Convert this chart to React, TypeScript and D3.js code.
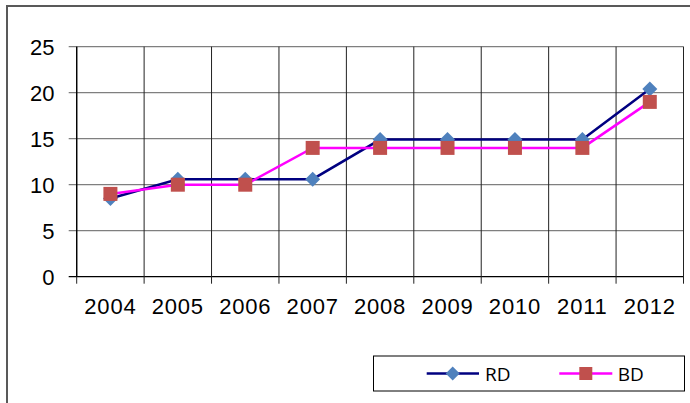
import * as d3 from "d3";
import { useEffect, useRef } from "react";

const years = ["2004", "2005", "2006", "2007", "2008", "2009", "2010", "2011", "2012"];
const rdValues = [8.5, 10.6, 10.6, 10.6, 14.9, 14.9, 14.9, 14.9, 20.4];
const bdValues = [9, 10, 10, 14, 14, 14, 14, 14, 19];
const yTicks = [0, 5, 10, 15, 20, 25];

const W = 690;
const H = 403;

// diamond marker, half size r
const diamond = (r: number) => {
    const p = d3.path();
    p.moveTo(0, -r);
    p.lineTo(r, 0);
    p.lineTo(0, r);
    p.lineTo(-r, 0);
    p.closePath();
    return p.toString();
};

const App = () => {
    const ref = useRef<SVGSVGElement>(null);

    useEffect(() => {
        const svg = d3.select(ref.current);
        svg.selectAll("*").remove();

        const plot = { left: 76.7, right: 683.5, top: 46.7, bottom: 276.7 };

        const x = d3.scaleBand().domain(years).range([plot.left, plot.right]).padding(0);
        const y = d3.scaleLinear().domain([0, 25]).range([plot.bottom, plot.top]);
        const cx = (d: string) => (x(d) as number) + x.bandwidth() / 2;

        // outer frame (runs past the window on right and bottom)
        svg.append("rect")
            .attr("x", 7).attr("y", 6)
            .attr("width", 700).attr("height", 420)
            .attr("fill", "white")
            .attr("stroke", "#595959")
            .attr("stroke-width", 2);

        // horizontal gridlines + y ticks
        svg.selectAll(".hgrid")
            .data(yTicks)
            .enter()
            .append("line")
            .attr("x1", plot.left - 8)
            .attr("x2", plot.right)
            .attr("y1", d => y(d))
            .attr("y2", d => y(d))
            .attr("stroke", d => d === 0 ? "#000" : "#7f7f7f")
            .attr("stroke-width", 1.3);

        // vertical category lines
        const bounds = years.map(d => x(d) as number).concat([plot.right]);
        svg.selectAll(".vgrid")
            .data(bounds)
            .enter()
            .append("line")
            .attr("x1", d => d)
            .attr("x2", d => d)
            .attr("y1", plot.top)
            .attr("y2", plot.bottom + 7)
            .attr("stroke", "#222")
            .attr("stroke-width", 1);

        svg.append("line")
            .attr("x1", plot.left).attr("x2", plot.left)
            .attr("y1", plot.top).attr("y2", plot.bottom)
            .attr("stroke", "#000").attr("stroke-width", 1.3);

        // y labels
        svg.selectAll(".ylab")
            .data(yTicks)
            .enter()
            .append("text")
            .attr("x", 54.5)
            .attr("y", d => y(d) + 8)
            .attr("text-anchor", "end")
            .attr("font-family", "'Liberation Sans', Arial, sans-serif")
            .attr("font-size", 22)
            .attr("fill", "#000")
            .text(d => d);

        // x labels
        svg.selectAll(".xlab")
            .data(years)
            .enter()
            .append("text")
            .attr("x", d => cx(d))
            .attr("y", 314)
            .attr("text-anchor", "middle")
            .attr("font-family", "'Liberation Sans', Arial, sans-serif")
            .attr("font-size", 22)
            .attr("letter-spacing", 0.8)
            .attr("fill", "#000")
            .text(d => d);

        const line = d3.line<number>()
            .x((_, i) => cx(years[i]))
            .y(d => y(d));

        // RD
        svg.append("path")
            .attr("d", line(rdValues))
            .attr("fill", "none")
            .attr("stroke", "#000080")
            .attr("stroke-width", 2.5);
        svg.selectAll(".rd")
            .data(rdValues)
            .enter()
            .append("path")
            .attr("d", diamond(7.5))
            .attr("transform", (d, i) => `translate(${cx(years[i])},${y(d)})`)
            .attr("fill", "#4F81BD");

        // BD
        svg.append("path")
            .attr("d", line(bdValues))
            .attr("fill", "none")
            .attr("stroke", "#FF00FF")
            .attr("stroke-width", 2.5);
        svg.selectAll(".bd")
            .data(bdValues)
            .enter()
            .append("rect")
            .attr("x", (d, i) => cx(years[i]) - 7)
            .attr("y", d => y(d) - 7)
            .attr("width", 14)
            .attr("height", 14)
            .attr("fill", "#C0504D");

        // legend
        const lg = svg.append("g");
        lg.append("rect")
            .attr("x", 373.5).attr("y", 356)
            .attr("width", 311).attr("height", 35)
            .attr("fill", "white")
            .attr("stroke", "#000")
            .attr("stroke-width", 1);
        const ly = 373.5;
        lg.append("line")
            .attr("x1", 426.7).attr("x2", 479).attr("y1", ly).attr("y2", ly)
            .attr("stroke", "#000080").attr("stroke-width", 2.5);
        lg.append("path")
            .attr("d", diamond(7))
            .attr("transform", `translate(452.7,${ly})`)
            .attr("fill", "#4F81BD");
        lg.append("text")
            .attr("x", 485).attr("y", ly + 7)
            .attr("font-family", "'Open Sans', 'Noto Sans', sans-serif")
            .attr("font-size", 19)
            .text("RD");
        lg.append("line")
            .attr("x1", 559.3).attr("x2", 612.3).attr("y1", ly).attr("y2", ly)
            .attr("stroke", "#FF00FF").attr("stroke-width", 2.5);
        lg.append("rect")
            .attr("x", 585.8 - 6.5).attr("y", ly - 6.5)
            .attr("width", 13).attr("height", 13)
            .attr("fill", "#C0504D");
        lg.append("text")
            .attr("x", 617.7).attr("y", ly + 7)
            .attr("font-family", "'Open Sans', 'Noto Sans', sans-serif")
            .attr("font-size", 19)
            .text("BD");
    }, []);

    return (
        <svg ref={ref} width={W} height={H}
            style={{ position: "absolute", left: 0, top: 0, background: "white" }} />
    );
};

export default App;
